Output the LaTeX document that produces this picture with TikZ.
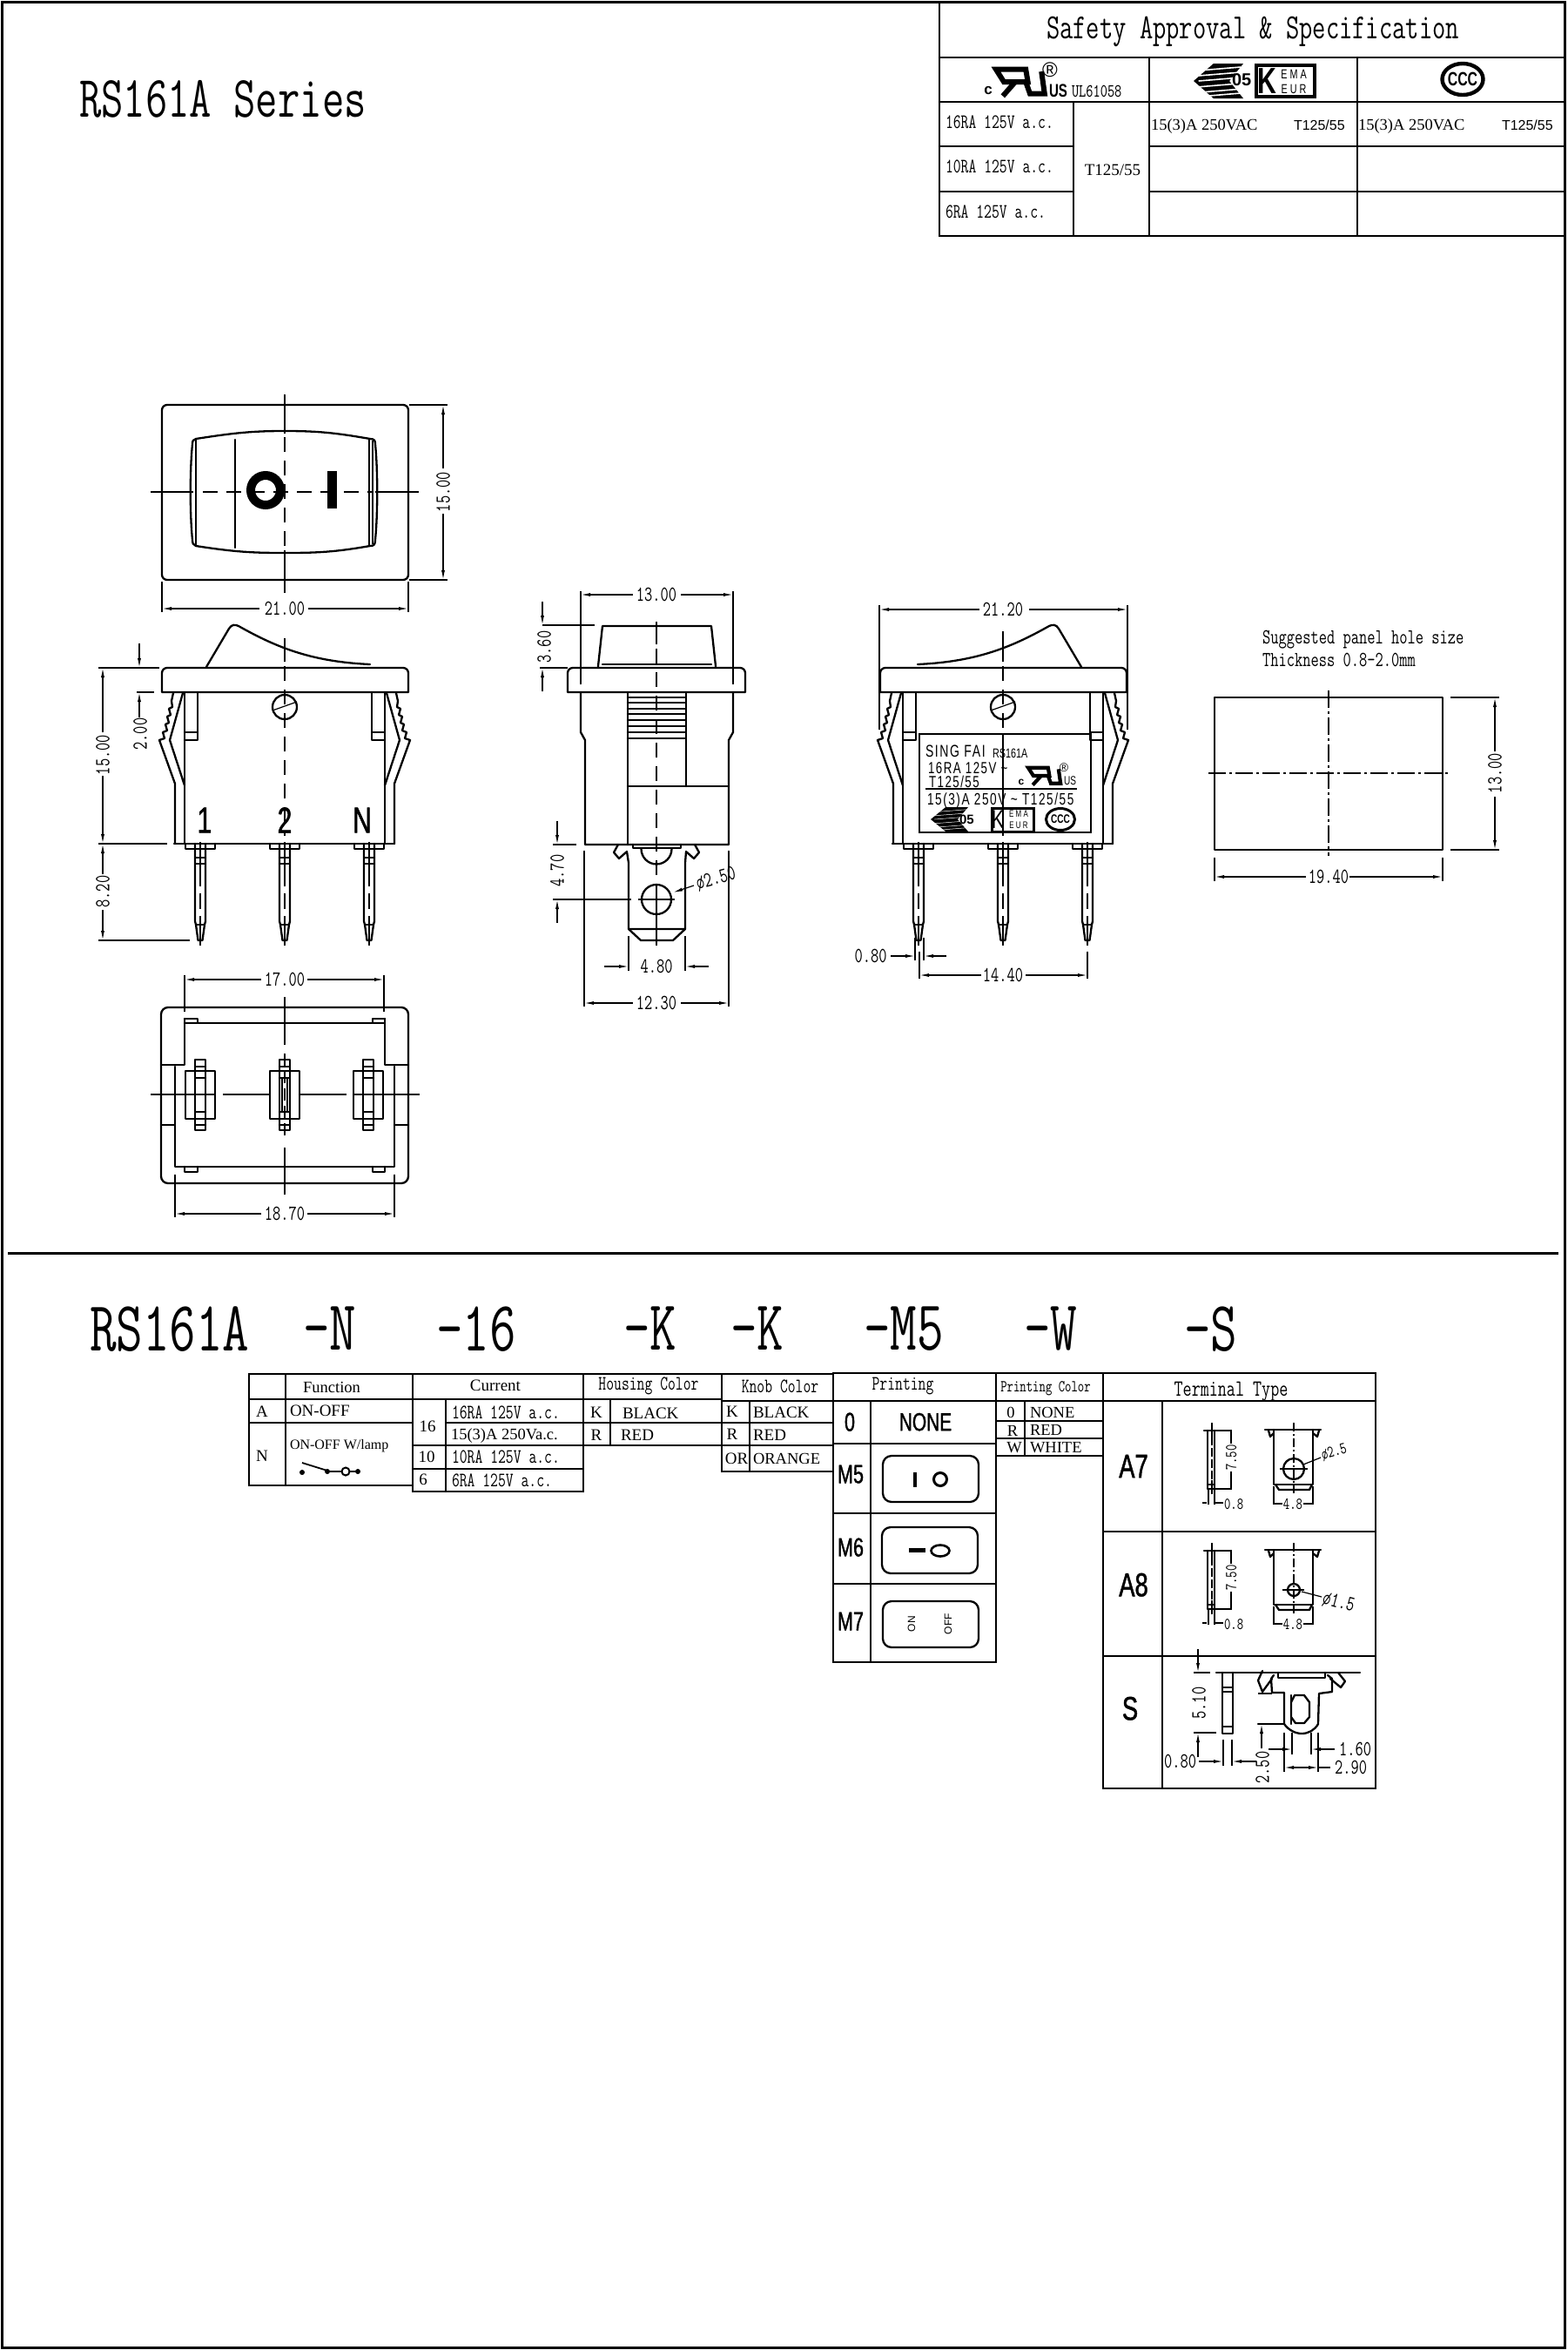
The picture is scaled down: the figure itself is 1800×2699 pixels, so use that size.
\documentclass[tikz,border=0pt]{standalone}
\usepackage{fontspec}
\setmainfont{Liberation Serif}
\newfontfamily\cad[FakeStretch=0.73,Scale=1.07]{Latin Modern Mono}
\newfontfamily\snar[FakeStretch=0.72]{Liberation Sans}
\newfontfamily\snarb[FakeStretch=0.72,FakeBold=1.2]{Liberation Sans}
\newfontfamily\snarsp[FakeStretch=0.72,LetterSpace=8]{Liberation Sans}
\newfontfamily\lsans{Liberation Sans}
\usetikzlibrary{arrows.meta}
\newcounter{lb}
\newcommand\pxs[1]{\fontsize{\the\dimexpr#1pt/2\relax}{\the\dimexpr#1pt/2\relax}\selectfont}
\newcommand\tx[5][]{\stepcounter{lb}\node[lab,#1] (lb\arabic{lb}) at (#2,#3) {#4\raisebox{0pt}[\height][0pt]{#5}};}
\newcommand\dm[4][]{\tx[#1]{#2}{#3}{\cad\pxs{23}}{#4}}
\newcommand\dms[4][]{\tx[#1]{#2}{#3}{\cad\pxs{18}}{#4}}
\newcommand\enmark[5]{%
 \begin{scope}[shift={(#1,#2)},xscale=#3,yscale=#4]
  \fill (0,.5) -- (.4,0) -- (1,0) -- (.72,.5) -- (1,1) -- (.4,1) -- cycle;
  \foreach \s in {.15,.3,.45,.62,.78,.9}{\draw[white,line width=#5] (.1,\s+.05) -- (.95,\s-.05);}
 \end{scope}}
\newcommand\urmark[5]{%
 \begin{scope}[shift={(#1,#2)},xscale=#3,yscale=#4]
  \draw[line width=#5,line join=miter] (.05,.08) -- (.62,.08) -- (.66,.5) -- (.2,.5) -- cycle;
  \draw[line width=#5] (.42,.5) -- (.18,.98);
  \draw[line width=#5] (.62,.5) -- (.7,.9) -- (.98,.9) -- (.92,.15);
 \end{scope}}
\newcommand\ccc[5]{\draw[line width=#5] (#1,#2) ellipse [x radius=#3,y radius=#4];}
\newcommand\bodyparts{%
 \draw[ol] (186,795) [rounded corners=3pt] -- (186,767) -- (469,767) [sharp corners] -- (469,795) -- cycle;
 \draw[ol] (327,812) circle [radius=14];
 \draw[thn] (313,816) -- (341,806);
 \draw[ol] (200,969) -- (453,969);
 \foreach \m in {0,1}{
 \begin{scope}[shift={(654*\m,0)},xscale=1-2*\m]
  \draw[ol] (212,795) -- (212,969);
  \draw[ol] (201,969) -- (201,900) -- (183,850) -- (189,848) -- (187,841) -- (192,839) -- (190,832) -- (194,830) -- (192,823) -- (196,821) -- (194,814) -- (198,812) -- (197,805) -- (199,796);
  \draw[ol] (212,902) -- (195,850) -- (210,796);
  \draw[ol] (212,850) -- (227,850) -- (227,795);
  \draw[thn] (212,841) -- (227,841);
 \end{scope}}
 \foreach \p in {230,327,424}{
  \draw[ol] (\p-17,969) -- (\p-17,975) -- (\p+17,975) -- (\p+17,969);
  \draw[ol] (\p-6,969) -- (\p-6,1058) -- (\p-5,1062) -- (\p-2.5,1080) -- (\p+2.5,1080) -- (\p+5,1062) -- (\p+6,1058) -- (\p+6,969);
  \draw[thn] (\p-6,985) -- (\p+6,985) (\p-6,992) -- (\p+6,992) (\p-5,1062) -- (\p+5,1062);
  \draw[thn] (\p,967) -- (\p,1000);
  \draw[thn,dash pattern=on 9pt off 4pt] (\p,1000) -- (\p,1070);
  \draw[thn] (\p,1070) -- (\p,1086);
 }}
\newcommand\termAA[1]{%
 \begin{scope}[shift={(0,#1)}]
  \draw[ol] (1383,1643) -- (1399,1643);
  \draw[ol] (1387,1643) -- (1387,1710) (1395,1643) -- (1395,1710);
  \draw[thn] (1387,1705) -- (1395,1705);
  \draw[thn] (1392,1634) -- (1392,1650);
  \draw[thn,dash pattern=on 5pt off 1.5pt] (1392,1650) -- (1392,1700);
  \draw[thn] (1392,1700) -- (1392,1716);
  \draw[thn] (1399,1643) -- (1415,1643) (1387,1710) -- (1415,1710);
  \draw[thn] (1414,1643) -- (1414,1658) (1414,1690) -- (1414,1710);
  \dms[rotate=90]{1414}{1674}{7.50}
  \draw[thn] (1388,1710) -- (1388,1728) (1395,1710) -- (1395,1728);
  \draw[thn] (1381,1726) -- (1386,1726) (1396,1726) -- (1405,1726);
  \dms[anchor=west]{1406}{1727}{0.8}
  \draw[ol] (1453,1642) -- (1517,1642);
  \draw[ol] (1457,1643) -- (1459,1650) -- (1463,1646) (1515,1643) -- (1513,1650) -- (1508,1646);
  \draw[ol] (1463,1643) -- (1463,1705) -- (1508,1705) -- (1508,1643);
  \draw[ol] (1465,1705) -- (1469,1711) -- (1504,1711) -- (1507,1705);
  \draw[thn,dash pattern=on 5pt off 1.5pt on 1pt off 1.5pt] (1486,1634) -- (1486,1715);
  \draw[thn] (1463,1707) -- (1463,1728) (1508,1707) -- (1508,1728);
  \draw[thn] (1463,1727) -- (1473,1727) (1497,1727) -- (1508,1727);
  \dms{1485}{1727}{4.8}
 \end{scope}}
\tikzset{
 lab/.style={inner sep=0pt,outer sep=0pt},
 ol/.style={line width=1.15pt,line join=round,line cap=round},
 tb/.style={line width=1pt,line cap=rect},
 thn/.style={line width=.6pt},
 dashcl/.style={line width=.7pt,dash pattern=on 8.5pt off 5pt},
 dotcl/.style={line width=.75pt,dash pattern=on 10pt off 2pt on 1.5pt off 2pt},
 dimarr/.style={line width=.6pt,-{Latex[length=5.5pt,width=2pt]}},
}
\begin{document}
\begin{tikzpicture}[x=.5pt,y=-.5pt,every node/.append style={text=black}]
\useasboundingbox (0,0) rectangle (1800,2699);
\fill[white] (0,0) rectangle (1800,2699);
\draw[line width=1.5pt] (2,2) rectangle (1797,2696);
% title
\tx{256}{113}{\cad\pxs{63}}{RS161A Series}
% safety table
\draw[tb] (1079,2) -- (1079,271) (1079,66) -- (1797,66) (1079,117) -- (1797,117)
 (1079,168) -- (1233,168) (1320,168) -- (1797,168)
 (1079,220) -- (1233,220) (1320,220) -- (1797,220) (1079,271) -- (1797,271)
 (1320,66) -- (1320,271) (1559,66) -- (1559,271) (1233,117) -- (1233,271);
\tx{1439}{32}{\cad\pxs{38}}{Safety Approval \& Specification}
\tx[anchor=west]{1086}{140}{\cad\pxs{22}}{16RA 125V a.c.}
\tx[anchor=west]{1086}{191}{\cad\pxs{22}}{10RA 125V a.c.}
\tx[anchor=west]{1086}{243}{\cad\pxs{22}}{6RA 125V a.c.}
\tx{1278}{195}{\pxs{19}}{T125/55}
\tx[anchor=west]{1322}{143}{\pxs{18.5}}{15(3)A 250VAC}
\tx[anchor=west]{1560}{143}{\pxs{18.5}}{15(3)A 250VAC}
\tx[anchor=west]{1486}{144}{\lsans\pxs{16}}{T125/55}
\tx[anchor=west]{1725}{144}{\lsans\pxs{16}}{T125/55}
\tx{1135}{104}{\lsans\bfseries\pxs{17}}{c}
\urmark{1141}{77}{60}{34}{3pt}
\tx{1206}{80}{\lsans\pxs{24}}{®}
\tx[anchor=west]{1205}{104}{\snar\bfseries\pxs{21}}{US}
\tx[anchor=west]{1231}{105}{\cad\pxs{20}}{UL61058}
\enmark{1371}{73}{57}{40}{.8pt}
\tx[anchor=west]{1415}{92}{\lsans\bfseries\pxs{20}}{05}
\draw[line width=2.3pt] (1443,75) rectangle (1510,111);
\tx{1455}{93}{\snar\bfseries\pxs{42}}{K}
\tx{1486}{85}{\snar\pxs{15}}{E M A}
\tx{1486}{102}{\snar\pxs{15}}{E U R}
\ccc{1680}{91}{23.5}{18}{2.2pt}
\tx{1680}{91}{\snar\bfseries\pxs{22}}{CCC}
% top view
\draw[ol,rounded corners=3pt] (186,465) rectangle (469,666);
\draw[ol] (225,504) .. controls (270,497) and (290,495) .. (327,495) .. controls (365,495) and (385,497) .. (425,504) .. controls (430,504) and (431,506) .. (431,510) .. controls (434,540) and (434,590) .. (431,620) .. controls (431,625) and (430,627) .. (425,627) .. controls (385,634) and (365,635) .. (327,635) .. controls (290,635) and (270,634) .. (225,627) .. controls (222,626) and (221,624) .. (221,620) .. controls (218,590) and (218,540) .. (221,510) .. controls (221,506) and (222,505) .. (225,504);
\draw[ol] (225,504) -- (225,627) (424,504) -- (424,627);
\draw[thn] (428,506) -- (428,625);
\draw[ol] (270,505) -- (270,629);
\draw[line width=5pt] (305,563) circle [radius=17];
\fill (376,541) rectangle (387,584);
\draw[thn] (327,453) -- (327,498) (327,632) -- (327,681) (173,565) -- (222,565) (431,565) -- (481,565);
\draw[dashcl] (327,502) -- (327,630);
\draw[dashcl] (233,565) -- (428,565);
\draw[thn] (470,465) -- (514,465) (470,666) -- (514,666) (186,668) -- (186,703) (469,668) -- (469,703);
\draw[dimarr] (509,538) -- (509,465);
\draw[dimarr] (509,590) -- (509,666);
\dm[rotate=90]{509}{565}{15.00}
\draw[dimarr] (298,699) -- (186,699);
\draw[dimarr] (354,699) -- (469,699);
\dm{327}{699}{21.00}
% front view
\bodyparts
\draw[ol] (237,766) -- (263,722) .. controls (266,717) and (270,717) .. (274,719) .. controls (320,745) and (360,760) .. (425,763);
\draw[thn] (327,733) -- (327,760);
\draw[dashcl] (327,765) -- (327,960);
\tx{235}{942}{\snarb\pxs{42}}{1}
\tx{327}{942}{\snarb\pxs{42}}{2}
\tx{416}{942}{\snarb\pxs{42}}{N}
\draw[thn] (113,767) -- (183,767) (157,795) -- (177,795) (113,969) -- (192,969) (113,1080) -- (218,1080);
\draw[dimarr] (160,739) -- (160,767);
\draw[dimarr] (160,824) -- (160,795);
\dm[rotate=90]{161}{843}{2.00}
\draw[dimarr] (118,841) -- (118,767);
\draw[dimarr] (118,891) -- (118,969);
\dm[rotate=90]{118}{867}{15.00}
\draw[dimarr] (118,1004) -- (118,969);
\draw[dimarr] (118,1045) -- (118,1080);
\dm[rotate=90]{118}{1024}{8.20}
% bottom view
\draw[ol,rounded corners=4pt] (185,1157) rectangle (469,1359);
\draw[ol] (212,1170) -- (212,1223) -- (185,1223) (212,1175) -- (442,1175) (442,1170) -- (442,1223) -- (469,1223);
\draw[ol] (201,1225) -- (201,1340) -- (453,1340) -- (453,1225);
\draw[ol] (185,1292) -- (201,1292) (453,1292) -- (469,1292);
\draw[ol] (212,1170) -- (227,1170) -- (227,1175) (428,1175) -- (428,1170) -- (442,1170);
\draw[ol] (212,1340) -- (212,1346) -- (227,1346) -- (227,1340) (428,1340) -- (428,1346) -- (442,1346) -- (442,1340);
\foreach \p in {230,327,423}{
 \draw[ol] (\p-17,1230) rectangle (\p+17,1285);
 \draw[ol] (\p-6,1217) rectangle (\p+6,1298);
 \draw[ol] (\p-6,1225) -- (\p+6,1225) (\p-6,1238) -- (\p+6,1238) (\p-6,1277) -- (\p+6,1277) (\p-6,1292) -- (\p+6,1292);
}
\draw[thn] (324,1238) rectangle (330,1277);
\draw[thn] (327,1145) -- (327,1200) (327,1318) -- (327,1372) (173,1257) -- (247,1257) (256,1257) -- (310,1257) (343,1257) -- (398,1257) (406,1257) -- (482,1257);
\draw[thn,dash pattern=on 7pt off 3pt] (327,1210) -- (327,1308);
\draw[thn] (212,1120) -- (212,1162) (441,1120) -- (441,1162) (201,1349) -- (201,1398) (453,1349) -- (453,1398);
\draw[dimarr] (300,1125) -- (212,1125);
\draw[dimarr] (353,1125) -- (441,1125);
\dm{327}{1125}{17.00}
\draw[dimarr] (300,1394) -- (201,1394);
\draw[dimarr] (353,1394) -- (453,1394);
\dm{327}{1394}{18.70}
% side view
\draw[ol] (652,795) [rounded corners=3pt] -- (652,767) -- (856,767) [sharp corners] -- (856,795) -- cycle;
\draw[ol] (687,767) -- (687,765) -- (692,719) -- (817,719) -- (822,765) -- (822,767);
\draw[ol] (692,763) -- (817,763);
\draw[ol] (667,795) -- (667,841) -- (672,850) -- (672,970) -- (837,970) -- (837,850) -- (842,841) -- (842,795);
\draw[ol] (721,795) -- (721,970) (788,795) -- (788,903) (721,903) -- (837,903);
\foreach \y in {801,807,814,820,827,834,841,848}{\draw[ol] (721,\y) -- (788,\y);}
\draw[ol] (727,970) -- (727,974) -- (782,974) -- (782,970);
\draw[ol] (710,970) -- (705,979) -- (711,986) -- (720,978) -- (722,991) -- (722,1067) -- (787,1067) -- (787,991) -- (788,978) -- (797,986) -- (803,979) -- (798,970);
\draw[ol] (722,1067) -- (736,1080) -- (773,1080) -- (787,1067);
\draw[ol] (736.5,975) arc (180:0:17.5);
\draw[ol] (754,1033) circle [radius=17];
\draw[thn] (754,714) -- (754,740);
\draw[dashcl] (754,745) -- (754,1040);
\draw[thn] (754,1028) -- (754,1086);
\draw[thn] (635,1033) -- (725,1033) (733,1033) -- (775,1033);
\draw[thn] (667,679) -- (667,786) (842,679) -- (842,786);
\draw[dimarr] (727,683) -- (667,683);
\draw[dimarr] (782,683) -- (842,683);
\dm{754}{683}{13.00}
\draw[thn] (623,718) -- (683,718) (620,767) -- (652,767) (635,970) -- (662,970);
\draw[dimarr] (623,691) -- (623,718);
\draw[dimarr] (623,794) -- (623,767);
\dm[rotate=90]{625}{743}{3.60}
\draw[dimarr] (640,943) -- (640,970);
\draw[dimarr] (640,1060) -- (640,1033);
\dm[rotate=90]{640}{1000}{4.70}
\draw[dimarr] (797,1017) -- (773,1025);
\dm[rotate=15]{822}{1008}{ø2.50}
\draw[thn] (722,1075) -- (722,1115) (787,1075) -- (787,1115);
\draw[dimarr] (694,1110) -- (722,1110);
\draw[dimarr] (814,1110) -- (787,1110);
\dm{754}{1110}{4.80}
\draw[thn] (671,977) -- (671,1156) (837,977) -- (837,1156);
\draw[dimarr] (727,1152) -- (671,1152);
\draw[dimarr] (782,1152) -- (837,1152);
\dm{754}{1152}{12.30}
% back view
\begin{scope}[shift={(825,0)}]\bodyparts\end{scope}
\draw[ol] (1242,766) -- (1216,722) .. controls (1213,717) and (1209,717) .. (1205,719) .. controls (1159,745) and (1119,760) .. (1054,763);
\draw[thn] (1152,725) -- (1152,760);
\draw[dashcl] (1152,765) -- (1152,842);
\draw[thn] (1152,842) -- (1152,960);
\draw[thn] (1056,843) rectangle (1253,956);
\tx[anchor=west]{1063}{863}{\snarsp\pxs{19.5}}{SING FAI}
\tx[anchor=west]{1140}{865}{\snar\pxs{15}}{RS161A}
\tx[anchor=west]{1066}{882}{\snarsp\pxs{18.5}}{16RA 125V \textasciitilde}
\tx[anchor=west]{1067}{898}{\snarsp\pxs{18.5}}{T125/55}
\tx{1173}{898}{\lsans\bfseries\pxs{12}}{c}
\urmark{1179}{880}{40}{22}{2.1pt}
\tx{1222}{882}{\lsans\pxs{14}}{®}
\tx[anchor=west]{1222}{897}{\snar\pxs{14}}{US}
\draw[thn] (1063,906) -- (1237,906);
\tx[anchor=west]{1065}{918}{\snarsp\pxs{19}}{15(3)A 250V \textasciitilde{} T125/55}
\enmark{1069}{927}{43}{28}{.25pt}
\tx[anchor=west]{1102}{941}{\lsans\bfseries\pxs{15}}{05}
\draw[line width=1.5pt] (1139,928) rectangle (1187,955);
\tx{1146}{941}{\snar\pxs{30}}{K}
\tx{1170}{935}{\snar\pxs{11}}{E M A}
\tx{1170}{948}{\snar\pxs{11}}{E U R}
\ccc{1218}{941}{16.5}{12.5}{1.5pt}
\tx{1218}{941}{\snar\bfseries\pxs{14}}{CCC}
\draw[thn] (1010,695) -- (1010,838) (1295,695) -- (1295,838);
\draw[dimarr] (1125,700) -- (1010,700);
\draw[dimarr] (1182,700) -- (1295,700);
\dm{1152}{700}{21.20}
\draw[thn] (1051,1077) -- (1051,1103) (1061,1077) -- (1061,1103);
\draw[dimarr] (1023,1098) -- (1051,1098);
\draw[dimarr] (1087,1098) -- (1061,1098);
\dm{1000}{1098}{0.80}
\draw[thn] (1056,1093) -- (1056,1124) (1249,1093) -- (1249,1124);
\draw[dimarr] (1127,1120) -- (1056,1120);
\draw[dimarr] (1178,1120) -- (1249,1120);
\dm{1152}{1120}{14.40}
% panel hole
\tx[anchor=west]{1450}{732}{\cad\pxs{23}}{Suggested panel hole size}
\tx[anchor=west]{1450}{758}{\cad\pxs{23}}{Thickness 0.8-2.0mm}
\draw[ol] (1395,801) rectangle (1657,976);
\draw[dotcl] (1526,793) -- (1526,983);
\draw[dotcl] (1388,888) -- (1663,888);
\draw[thn] (1666,801) -- (1722,801) (1666,976) -- (1722,976);
\draw[dimarr] (1717,863) -- (1717,801);
\draw[dimarr] (1717,915) -- (1717,976);
\dm[rotate=90]{1717}{888}{13.00}
\draw[thn] (1395,985) -- (1395,1012) (1657,985) -- (1657,1012);
\draw[dimarr] (1500,1007) -- (1395,1007);
\draw[dimarr] (1550,1007) -- (1657,1007);
\dm{1526}{1007}{19.40}
% divider
\draw[line width=1.5pt] (9,1439) -- (1790,1439);
% order code
\foreach \xx/\st in {103/RS161A,348/-N,501/-16,716/-K,839/-K,992/-M5,1176/-W,1360/-S}{
 \tx[anchor=west]{\xx}{1526}{\cad\pxs{76}}{\st}}
% function table
\draw[tb] (286,1578) rectangle (474,1706) (328,1578) -- (328,1706) (286,1607) -- (474,1607) (286,1634) -- (474,1634);
\tx{381}{1593}{\pxs{18.5}}{Function}
\tx{301}{1621}{\pxs{19}}{A}
\tx[anchor=west]{333}{1620}{\pxs{19}}{ON-OFF}
\tx{301}{1672}{\pxs{19}}{N}
\tx[anchor=west]{333}{1659}{\pxs{16}}{ON-OFF W/lamp}
\fill (347,1691) circle [radius=3] (376,1690) circle [radius=3] (411,1690) circle [radius=3];
\draw[thn,line width=.9pt] (347,1680) -- (376,1689) (376,1690) -- (411,1690);
\draw[line width=1pt,fill=white] (397,1690) circle [radius=4.5];
% current
\draw[tb] (474,1578) rectangle (670,1713) (512,1607) -- (512,1713) (474,1607) -- (670,1607) (512,1634) -- (670,1634) (474,1660) -- (670,1660) (474,1687) -- (670,1687);
\tx{569}{1591}{\pxs{19}}{Current}
\tx{491}{1638}{\pxs{19}}{16}
\tx{490}{1673}{\pxs{19}}{10}
\tx{486}{1699}{\pxs{19}}{6}
\tx[anchor=west]{519}{1622}{\cad\pxs{22}}{16RA 125V a.c.}
\tx[anchor=west]{518}{1647}{\pxs{18.5}}{15(3)A 250Va.c.}
\tx[anchor=west]{519}{1673}{\cad\pxs{22}}{10RA 125V a.c.}
\tx[anchor=west]{519}{1700}{\cad\pxs{22}}{6RA 125V a.c.}
% housing
\draw[tb] (670,1578) -- (829,1578) (670,1607) -- (829,1607) (670,1634) -- (829,1634) (670,1660) -- (829,1660) (701,1607) -- (701,1660) (829,1578) -- (829,1690);
\tx{745}{1589}{\cad\pxs{22}}{Housing Color}
\tx{685}{1622}{\pxs{19}}{K}
\tx[anchor=west]{715}{1623}{\pxs{19}}{BLACK}
\tx{685}{1648}{\pxs{19}}{R}
\tx[anchor=west]{713}{1648}{\pxs{19}}{RED}
% knob
\draw[tb] (829,1578) -- (957,1578) (829,1609) -- (957,1609) (829,1634) -- (957,1634) (829,1660) -- (957,1660) (829,1690) -- (957,1690) (861,1609) -- (861,1690);
\tx{896}{1592}{\cad\pxs{22}}{Knob Color}
\tx{841}{1621}{\pxs{19}}{K}
\tx[anchor=west]{865}{1622}{\pxs{19}}{BLACK}
\tx{841}{1647}{\pxs{19}}{R}
\tx[anchor=west]{865}{1648}{\pxs{19}}{RED}
\tx{846}{1675}{\pxs{19}}{OR}
\tx[anchor=west]{865}{1675}{\pxs{18.5}}{ORANGE}
% printing
\draw[tb] (957,1577) rectangle (1144,1909) (1000,1609) -- (1000,1909) (957,1609) -- (1144,1609) (957,1658) -- (1144,1658) (957,1738) -- (1144,1738) (957,1819) -- (1144,1819);
\tx{1037}{1589}{\cad\pxs{22}}{Printing}
\tx{976}{1633}{\snarb\pxs{30}}{0}
\tx{1063}{1633}{\snarb\pxs{29}}{NONE}
\tx{977}{1693}{\snarb\pxs{30}}{M5}
\tx{977}{1777}{\snarb\pxs{30}}{M6}
\tx{977}{1862}{\snarb\pxs{30}}{M7}
\draw[ol,rounded corners=5pt] (1014,1672) rectangle (1124,1725);
\fill (1049,1691) rectangle (1053,1708);
\draw[line width=1.5pt] (1080,1699) circle [radius=7.5];
\draw[ol,rounded corners=5pt] (1013,1754) rectangle (1123,1807);
\fill (1044,1778) rectangle (1063,1783);
\draw[line width=1.3pt] (1080,1781) ellipse [x radius=10.5,y radius=6.5];
\draw[ol,rounded corners=5pt] (1014,1839) rectangle (1124,1892);
\tx[rotate=90]{1047}{1865}{\lsans\pxs{12}}{ON}
\tx[rotate=90]{1089}{1865}{\lsans\pxs{12}}{OFF}
% printing colour
\draw[tb] (1144,1577) -- (1267,1577) (1144,1609) -- (1267,1609) (1144,1632) -- (1267,1632) (1144,1652) -- (1267,1652) (1144,1672) -- (1267,1672) (1177,1609) -- (1177,1672);
\tx{1201}{1592}{\cad\pxs{18}}{Printing Color}
\tx{1161}{1622}{\pxs{18.5}}{0}
\tx[anchor=west]{1183}{1622}{\pxs{18.5}}{NONE}
\tx{1163}{1643}{\pxs{18.5}}{R}
\tx[anchor=west]{1183}{1642}{\pxs{18.5}}{RED}
\tx{1165}{1662}{\pxs{18.5}}{W}
\tx[anchor=west]{1183}{1662}{\pxs{18.5}}{WHITE}
% terminal
\draw[tb] (1267,1577) rectangle (1580,2054) (1335,1609) -- (1335,2054) (1267,1609) -- (1580,1609) (1267,1759) -- (1580,1759) (1267,1902) -- (1580,1902);
\tx{1414}{1595}{\cad\pxs{25}}{Terminal Type}
\tx{1302}{1684}{\snarb\pxs{38}}{A7}
\tx{1302}{1820}{\snarb\pxs{38}}{A8}
\tx{1298}{1962}{\snarb\pxs{38}}{S}
\termAA{0}
\termAA{138}
\draw[ol] (1486,1687) circle [radius=12];
\draw[thn] (1470,1687) -- (1502,1687);
\draw[thn] (1497,1682) -- (1517,1674);
\dms[rotate=15]{1532}{1667}{ø2.5}
\draw[ol] (1486,1826) circle [radius=7];
\draw[thn] (1473,1826) -- (1498,1826);
\draw[thn] (1495,1828) -- (1518,1834);
\dm[rotate=-15]{1538}{1839}{ø1.5}
% S terminal
\draw[ol] (1397,1921) -- (1562,1921);
\draw[thn] (1371,1921) -- (1390,1921) (1371,1990) -- (1397,1990);
\draw[dimarr] (1376,1894) -- (1376,1921);
\draw[dimarr] (1376,2018) -- (1376,1990);
\dm[rotate=90]{1377}{1956}{5.10}
\draw[ol] (1404,1921) -- (1404,1991) -- (1416,1991) -- (1416,1921);
\draw[thn] (1404,1938) -- (1416,1938) (1404,1943) -- (1416,1943) (1404,1983) -- (1416,1983);
\draw[thn] (1405,1998) -- (1405,2028) (1415,1998) -- (1415,2028);
\draw[dimarr] (1377,2023) -- (1405,2023);
\draw[dimarr] (1443,2023) -- (1415,2023);
\dm[anchor=west]{1337}{2023}{0.80}
\draw[ol] (1468,1921) -- (1468,1927) -- (1522,1927) -- (1522,1921);
\draw[ol] (1463,1924) -- (1460,1928) -- (1461,1944) -- (1475,1944) -- (1475,1980) .. controls (1480,1987) and (1488,1991) .. (1495,1991) .. controls (1503,1991) and (1510,1987) .. (1514,1980) -- (1515,1945) -- (1530,1943) -- (1530,1928) -- (1525,1924);
\draw[ol] (1537,1921) -- (1545,1931) -- (1540,1938) -- (1528,1928);
\draw[ol] (1450,1919) -- (1445,1930) -- (1450,1943) -- (1461,1928);
\draw[ol] (1487,1947) -- (1498,1947) -- (1504,1955) -- (1504,1972) -- (1498,1979) -- (1488,1979) -- (1483,1972) -- (1483,1955) -- cycle;
\draw[ol] (1483,1947) -- (1483,1980);
\draw[thn] (1445,1945) -- (1461,1945);
\draw[ol] (1445,1980) -- (1475,1980);
\draw[dimarr] (1449,2008) -- (1449,1980);
\dm[rotate=90]{1450}{2030}{2.50}
\draw[thn] (1484,1990) -- (1484,2015) (1506,1990) -- (1506,2015) (1475,1990) -- (1475,2035) (1514,1990) -- (1514,2035);
\draw[dimarr] (1457,2009) -- (1484,2009);
\draw[dimarr] (1533,2009) -- (1506,2009);
\dm[anchor=west]{1538}{2009}{1.60}
\draw[dimarr] (1495,2030) -- (1475,2030);
\draw[dimarr] (1495,2030) -- (1514,2030);
\draw[thn] (1514,2030) -- (1528,2030);
\dm[anchor=west]{1533}{2030}{2.90}
\end{tikzpicture}
\end{document}
